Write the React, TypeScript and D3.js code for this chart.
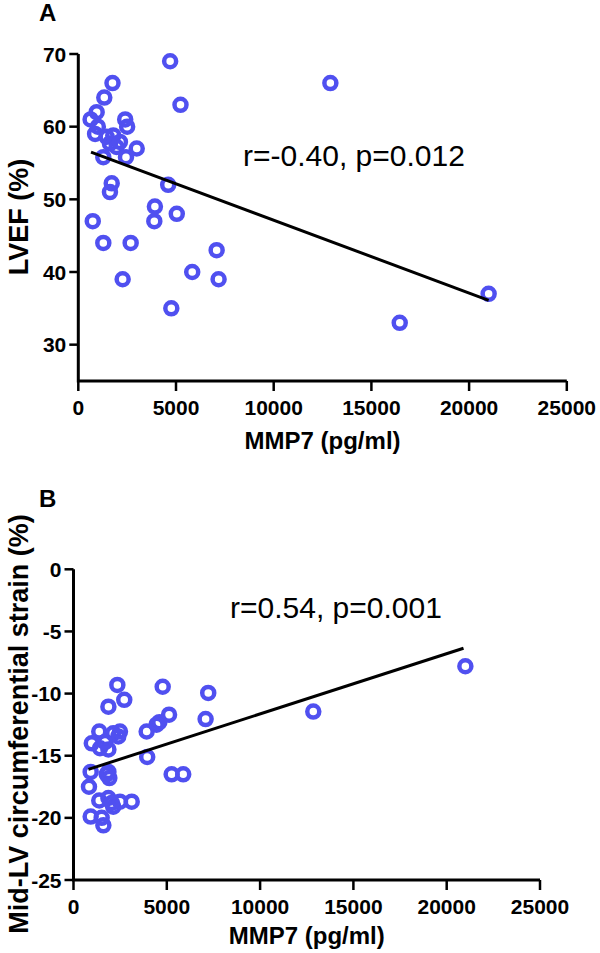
import * as d3 from 'd3';

// Panel A: MMP7 vs LVEF
const mmpA = [4700, 1750, 1330, 940, 630, 2400, 2500, 5230, 860, 1000, 1450, 1620, 1790, 1960, 2130, 2990, 2440, 1280, 1710, 1620, 4600, 12900, 740, 1280, 2680, 2270, 3920, 3890, 5040, 7080, 7180, 5830, 4760, 16450, 21000];
const lvef = [69, 66, 64, 62, 61, 61, 60, 63, 59, 60, 58.6, 57.7, 58.8, 57.2, 57.9, 57, 55.8, 55.8, 52.2, 51, 52, 66, 47, 44, 44, 39, 49, 47, 48, 43, 39, 40, 35, 33, 37];
const fitA = [{ x: 650, y: 56.5 }, { x: 21000, y: 36.1 }];

// Panel B: MMP7 vs mid-LV circumferential strain
const mmpB = [2350, 4780, 7220, 1870, 2720, 5120, 4600, 4450, 7080, 3920, 3950, 5260, 5880, 3120, 830, 920, 1600, 1510, 920, 1380, 980, 1420, 1870, 2130, 2490, 2400, 1690, 1870, 1920, 1780, 1380, 1870, 2130, 2490, 2050, 12850, 21000];
const strain = [-9.3, -9.45, -9.95, -11.05, -10.5, -11.7, -12.3, -12.5, -12.05, -13.05, -15.1, -16.5, -16.5, -18.7, -17.5, -19.9, -20.6, -20.0, -16.3, -13.05, -14.0, -14.4, -14.5, -13.2, -13.05, -13.45, -13.9, -16.3, -16.8, -16.5, -18.6, -18.4, -19.1, -18.7, -18.8, -11.45, -7.8];
const fitB = [{ x: 800, y: -16.1 }, { x: 20900, y: -6.35 }];

const xTicks = [0, 5000, 10000, 15000, 20000, 25000];
const yTicksA = [30, 40, 50, 60, 70];
const yTicksB = [0, -5, -10, -15, -20, -25];

const font = '"Liberation Sans", Arial, sans-serif';
const blue = '#5050F0';

type PanelProps = {
  letter: string;
  letterY: number;
  xs: number[];
  ys: number[];
  fit: { x: number; y: number }[];
  xRange: [number, number];
  yDomain: [number, number];
  yRange: [number, number];
  yTicks: number[];
  yTitle: string;
  yTitleY: number;
  note: string;
  noteX: number;
  noteY: number;
  xTitleY: number;
};

function Panel(p: PanelProps) {
  const x = d3.scaleLinear().domain([0, 25000]).range(p.xRange);
  const y = d3.scaleLinear().domain(p.yDomain).range(p.yRange);
  const x0 = p.xRange[0];
  const yBase = p.yRange[0];
  const line = d3
    .line<{ x: number; y: number }>()
    .x((d) => x(d.x))
    .y((d) => y(d.y));
  return (
    <g fontFamily={font}>
      <text x={39} y={p.letterY} fontSize={24} fontWeight="bold">
        {p.letter}
      </text>
      {/* axes */}
      <path
        d={`M${x0},${p.yRange[1]}V${yBase}H${p.xRange[1]}`}
        fill="none"
        stroke="#000"
        strokeWidth={3}
      />
      {p.yTicks.map((t) => (
        <g key={t}>
          <line x1={x0 - 9} x2={x0} y1={y(t)} y2={y(t)} stroke="#000" strokeWidth={2.5} />
          <text x={x0 - 12} y={y(t) + 7.5} textAnchor="end" fontSize={21} fontWeight="bold">
            {t}
          </text>
        </g>
      ))}
      {xTicks.map((t) => (
        <g key={t}>
          <line x1={x(t)} x2={x(t)} y1={yBase} y2={yBase + 10} stroke="#000" strokeWidth={2.5} />
          <text x={x(t)} y={yBase + 34} textAnchor="middle" fontSize={21} fontWeight="bold">
            {t}
          </text>
        </g>
      ))}
      <text
        x={(p.xRange[0] + p.xRange[1]) / 2}
        y={p.xTitleY}
        textAnchor="middle"
        fontSize={24}
        fontWeight="bold"
      >
        MMP7 (pg/ml)
      </text>
      <text
        transform={`translate(28,${p.yTitleY}) rotate(-90)`}
        textAnchor="middle"
        fontSize={27}
        fontWeight="bold"
      >
        {p.yTitle}
      </text>
      {/* points */}
      {p.xs.map((v, i) => (
        <circle
          key={i}
          cx={x(v)}
          cy={y(p.ys[i])}
          r={6}
          fill="none"
          stroke={blue}
          strokeWidth={4.5}
        />
      ))}
      <path d={line(p.fit) ?? ''} fill="none" stroke="#000" strokeWidth={3} />
      <text x={p.noteX} y={p.noteY} fontSize={30}>
        {p.note}
      </text>
    </g>
  );
}

export default function App() {
  return (
    <div style={{ position: 'absolute', left: 0, top: 0 }}>
      <svg width={600} height={953} viewBox="0 0 600 953" style={{ display: 'block' }}>
        <rect width={600} height={953} fill="#fff" />
        <Panel
          letter="A"
          letterY={21}
          xs={mmpA}
          ys={lvef}
          fit={fitA}
          xRange={[78.3, 566.8]}
          yDomain={[25, 70]}
          yRange={[381, 54]}
          yTicks={yTicksA}
          yTitle="LVEF (%)"
          yTitleY={217}
          note="r=-0.40, p=0.012"
          noteX={243}
          noteY={166}
          xTitleY={449}
        />
        <Panel
          letter="B"
          letterY={507}
          xs={mmpB}
          ys={strain}
          fit={fitB}
          xRange={[73.5, 540]}
          yDomain={[-25, 0]}
          yRange={[880, 569.3]}
          yTicks={yTicksB}
          yTitle="Mid-LV circumferential strain (%)"
          yTitleY={724}
          note="r=0.54, p=0.001"
          noteX={230}
          noteY={618}
          xTitleY={944}
        />
      </svg>
    </div>
  );
}
